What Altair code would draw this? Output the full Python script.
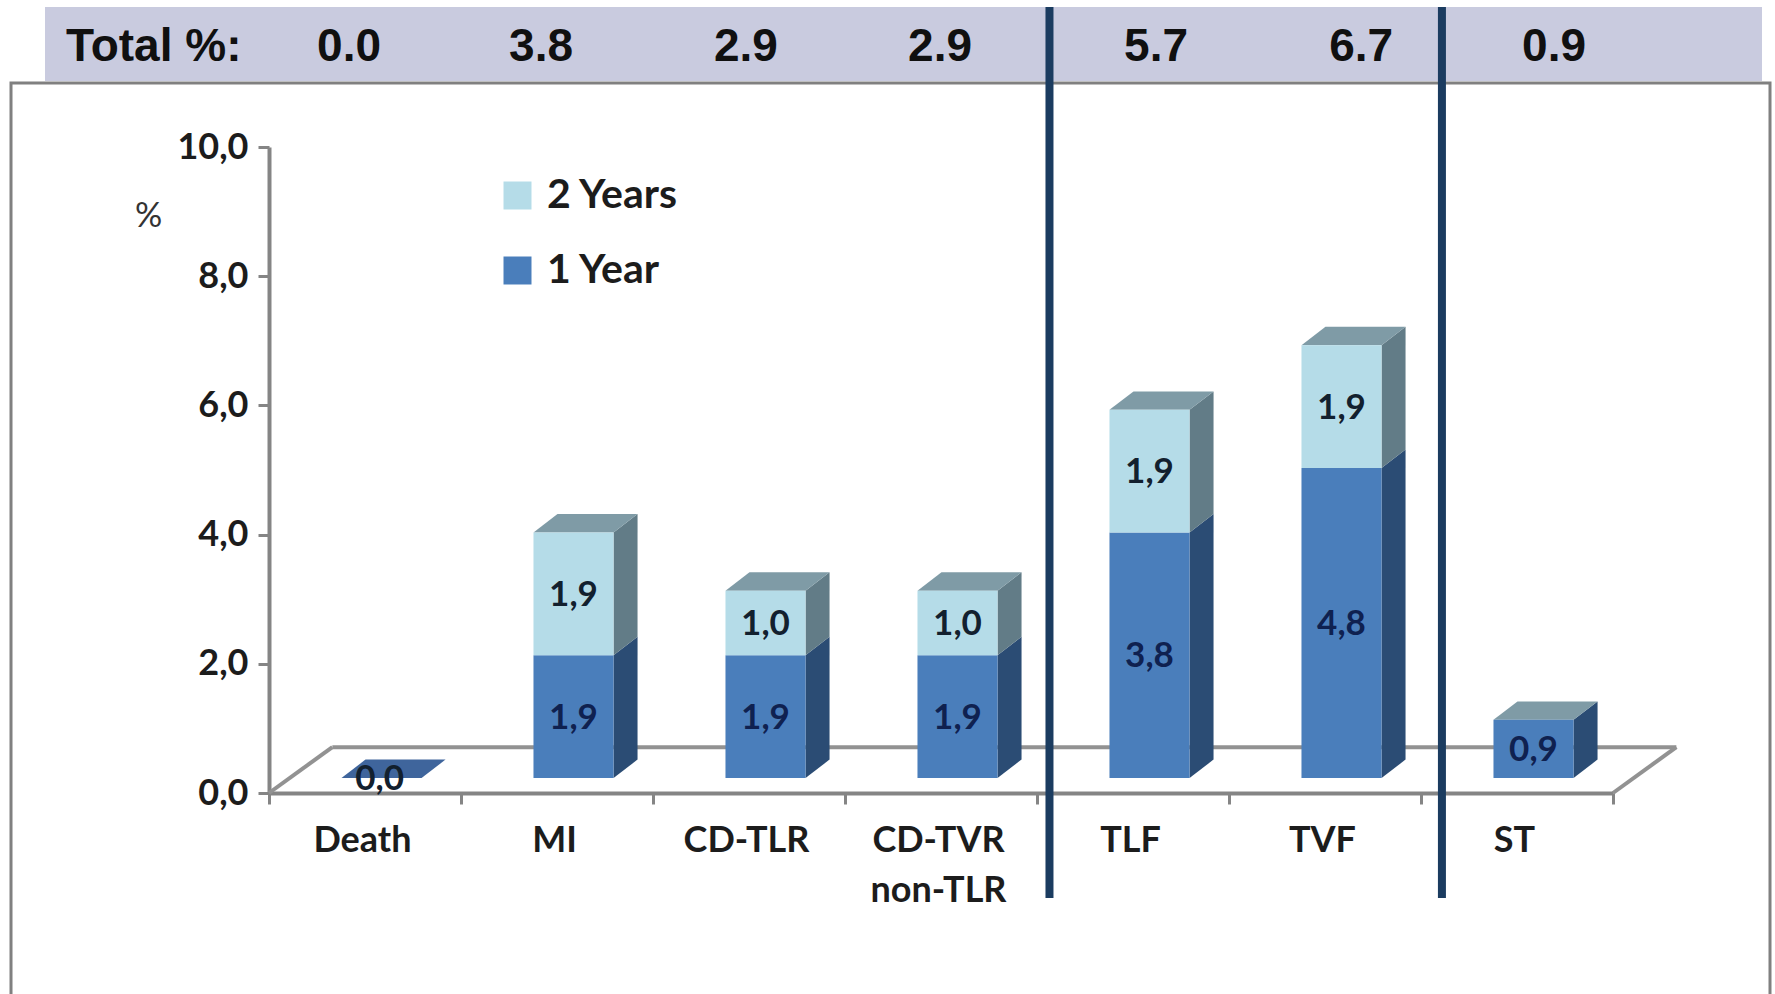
import altair as alt
import pandas as pd

# Chart values
categories = ["Death", "MI", "CD-TLR", "CD-TVR non-TLR", "TLF", "TVF", "ST"]
year_1 = [0.0, 1.9, 1.9, 1.9, 3.8, 4.8, 0.9]
year_2 = [0.0, 1.9, 1.0, 1.0, 1.9, 1.9, 0.0]
totals = ["0.0", "3.8", "2.9", "2.9", "5.7", "6.7", "0.9"]
y_ticks = [0, 2, 4, 6, 8, 10]

# Pseudo-3D geometry, in scale units
BAR_WIDTH = 0.417
BAR_SHIFT = 0.086
DEPTH_X = 0.125
DEPTH_Y = 0.285
LIFT = 0.232
FLOOR_X = 0.33
FLOOR_Y = 0.71

total_positions = [0.417, 1.417, 2.484, 3.495, 4.62, 5.688, 6.693]
separator_positions = [4.065, 6.109]

FONT = "Lato"
GREY = "#858585"
C1, C2 = "#4a7ebb", "#b5dce8"
SIDE1, SIDE2 = "#2b4c74", "#627c87"
TOP_GREY, TOP_FLAT = "#7f9ba6", "#3f659c"

# Build the front faces, side faces and top faces of every stacked column
front, side, top = [], [], []
for i, cat in enumerate(categories):
    x0 = i + 0.5 + BAR_SHIFT - BAR_WIDTH / 2
    x1 = x0 + BAR_WIDTH
    level = LIFT
    for series, val in (("1 Year", year_1[i]), ("2 Years", year_2[i])):
        if val > 0:
            lo, hi = level, level + val
            front.append(dict(cat=cat, series=series, x0=x0, x1=x1, lo=lo, hi=hi,
                              mid=(lo + hi) / 2, xc=(x0 + x1) / 2,
                              label=f"{val:.1f}".replace(".", ",")))
            key = f"{i}-{series}"
            side.append(dict(key=key, series=series, x=x1, lo=lo, hi=hi))
            side.append(dict(key=key, series=series, x=x1 + DEPTH_X, lo=lo + DEPTH_Y, hi=hi + DEPTH_Y))
            level = hi
    t = level
    flat = year_1[i] + year_2[i] == 0
    for x, lo, hi in ((x0, t, t), (x0 + DEPTH_X, t, t + DEPTH_Y),
                      (x1, t, t + DEPTH_Y), (x1 + DEPTH_X, t + DEPTH_Y, t + DEPTH_Y)):
        top.append(dict(key=str(i), flat=flat, x=x, lo=lo, hi=hi))

front, side, top = map(pd.DataFrame, (front, side, top))

floor = pd.DataFrame([
    dict(edge="left", x=0, y=0), dict(edge="left", x=FLOOR_X, y=FLOOR_Y),
    dict(edge="back", x=FLOOR_X, y=FLOOR_Y), dict(edge="back", x=7 + FLOOR_X, y=FLOOR_Y),
    dict(edge="right", x=7, y=0), dict(edge="right", x=7 + FLOOR_X, y=FLOOR_Y),
])

x_dom = alt.Scale(domain=[0, 7], nice=False, zero=False)
y_dom = alt.Scale(domain=[0, 10], nice=False)
one = pd.DataFrame({"a": [0]})

# Category names are hung off the tick marks with a half-category label offset
label_items = ",".join(
    "['CD-TVR','non-TLR']" if c == "CD-TVR non-TLR" else f"'{c}'" for c in categories
)
x_axis = alt.Axis(
    values=list(range(8)), title=None, grid=False,
    labelExpr=f"[{label_items},''][datum.value]",
    labelOffset=93, labelFont=FONT, labelFontSize=36, labelFontWeight="bold",
    labelColor="#1c1c1c", labelPadding=19, labelLineHeight=50, labelOverlap=False,
    labelFlush=False, labelBound=False,
    domainColor=GREY, domainWidth=4, tickColor=GREY, tickWidth=3, tickSize=11,
)
y_axis = alt.Axis(
    values=y_ticks, grid=False, title="%", titleAngle=0, titleX=-121, titleY=69,
    titleAlign="center", titleBaseline="middle", titleFont=FONT, titleFontSize=34,
    titleFontWeight="normal", titleColor="#333333",
    labelExpr="replace(format(datum.value,'.1f'),'.',',')",
    labelFont=FONT, labelFontSize=36, labelFontWeight="bold", labelColor="#1c1c1c",
    labelPadding=10, labelOverlap=False, labelFlush=False,
    domainColor=GREY, domainWidth=4, tickColor=GREY, tickWidth=3, tickSize=11,
)


def X(field):
    return alt.X(field, scale=x_dom, axis=x_axis)


def Y(field):
    return alt.Y(field, scale=y_dom, axis=y_axis)


frame = alt.Chart(one).mark_rect(fillOpacity=0, stroke="#808080", strokeWidth=3).encode(
    x=alt.value(-258), x2=alt.value(1501), y=alt.value(-64), y2=alt.value(900))
band = alt.Chart(one).mark_rect(fill="#c9cbdf").encode(
    x=alt.value(-224), x2=alt.value(1493), y=alt.value(-140), y2=alt.value(-66))

floor_lines = alt.Chart(floor).mark_line(color="#929292", strokeWidth=4, clip=False).encode(
    x=X("x:Q"), y=Y("y:Q"), detail="edge:N",
)


def area_face(data, color):
    return alt.Chart(data).mark_area(color=color, interpolate="linear").encode(
        x=X("x:Q"), y=Y("hi:Q"), y2="lo:Q", detail="key:N",
    )


side_1 = area_face(side[side.series == "1 Year"], SIDE1)
side_2 = area_face(side[side.series == "2 Years"], SIDE2)
top_grey = area_face(top[~top.flat], TOP_GREY)
top_flat = area_face(top[top.flat], TOP_FLAT)

bars = alt.Chart(front).mark_rect().encode(
    x=X("x0:Q"),
    x2="x1:Q",
    y=Y("lo:Q"),
    y2="hi:Q",
    color=alt.Color(
        "series:N",
        scale=alt.Scale(domain=["2 Years", "1 Year"], range=[C2, C1]),
        legend=alt.Legend(
            title=None, orient="none", legendX=228, legendY=28,
            symbolType="square", symbolSize=784, symbolStrokeWidth=0, symbolOpacity=1,
            labelFont=FONT, labelFontSize=41, labelFontWeight="bold", labelColor="#1c1c1c",
            labelOffset=9, rowPadding=33,
        ),
    ),
)

value_labels = alt.Chart(front).mark_text(
    font=FONT, fontSize=35, fontWeight="bold", align="center", baseline="middle", dy=1
).encode(
    x=X("xc:Q"),
    y=Y("mid:Q"),
    text="label:N",
    color=alt.Color("series:N", scale=alt.Scale(domain=["2 Years", "1 Year"], range=["#12202e", "#0f2150"]), legend=None),
)

zero_label = alt.Chart(pd.DataFrame({
    "x": [0.5 + BAR_SHIFT - 0.01], "y": [LIFT], "label": [f"{year_1[0]:.1f}".replace(".", ",")]
})).mark_text(
    font=FONT, fontSize=35, fontWeight="bold", color="#12202e", align="center", baseline="middle", dy=1
).encode(x=X("x:Q"), y=Y("y:Q"), text="label:N")

head_text = dict(font="Liberation Sans", color="#101010", fontWeight="bold", baseline="middle")
total_row = alt.Chart(pd.DataFrame({"x": total_positions, "t": totals})).mark_text(
    align="center", fontSize=46, **head_text
).encode(x=X("x:Q"), y=alt.value(-100), text="t:N")
total_head = alt.Chart(one).mark_text(align="left", fontSize=46, **head_text).encode(
    x=alt.value(-203), y=alt.value(-100), text=alt.value("Total %:"))

separators = alt.Chart(pd.DataFrame({"x": separator_positions})).mark_rule(
    color="#1b3c60", strokeWidth=8
).encode(x=X("x:Q"), y=alt.value(-140), y2=alt.value(751))

chart = alt.layer(
    frame, band, floor_lines, side_1, side_2, top_grey, top_flat, bars,
    value_labels, zero_label, total_row, total_head, separators,
).resolve_scale(color="independent").properties(
    width=1344, height=646, background="white",
    padding={"left": 269, "top": 147, "right": 162, "bottom": 201},
    autosize=alt.AutoSizeParams(type="none"),
).configure_view(stroke=None)

chart.save("out.html", embed_options={"renderer": "svg", "actions": False})
